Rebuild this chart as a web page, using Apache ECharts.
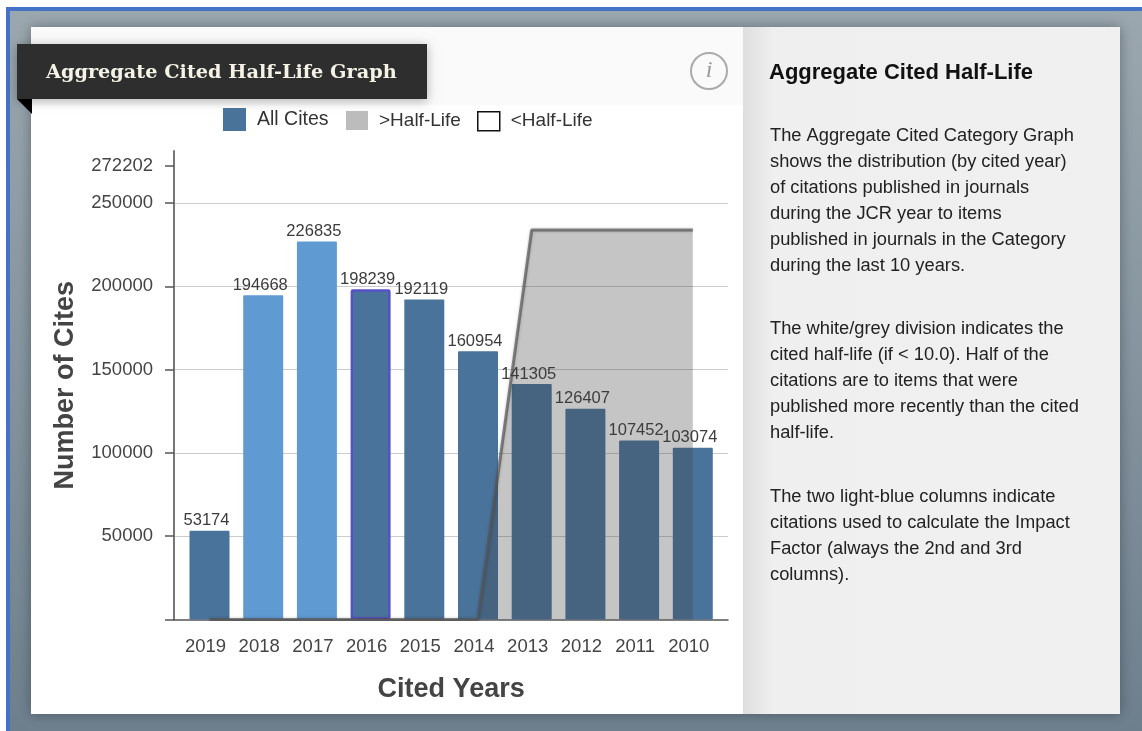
<!DOCTYPE html>
<html>
<head>
<meta charset="utf-8">
<title>Aggregate Cited Half-Life Graph</title>
<style>html,body{margin:0;padding:0;background:#fff}#chart{width:1142px;height:731px}</style>
<script src="https://cdn.jsdelivr.net/npm/echarts@6/dist/echarts.min.js"></script>
</head>
<body>
<div id="chart"></div>
<script>
// Cited-year columns, left to right
const citedYears = ['2019','2018','2017','2016','2015','2014','2013','2012','2011','2010'];
const allCites = [53174,194668,226835,198239,192119,160954,141305,126407,107452,103074];
// Step outline of the share older than the cited half-life
const halfLifeShare = [0,0,0,0,0,0,233800,233800,233800,233800];
const yTicks = [0,50000,100000,150000,200000,250000,272202];
const impactFactorYears = ['2018','2017'];
const selectedYear = '2016';

const panelTitle = 'Aggregate Cited Half-Life';
const panelParagraphs = [
  ['The Aggregate Cited Category Graph','shows the distribution (by cited year)','of citations published in journals','during the JCR year to items','published in journals in the Category','during the last 10 years.'],
  ['The white/grey division indicates the','cited half-life (if < 10.0). Half of the','citations are to items that were','published more recently than the cited','half-life.'],
  ['The two light-blue columns indicate','citations used to calculate the Impact','Factor (always the 2nd and 3rd','columns).']
];
const panelParagraphTops = [136,329,497];

const SANS = '"Liberation Sans", Arial, sans-serif';
const AXIS_TOP = 281200;
const grid = {top:151, bottom:111.6};

// Page furniture behind the chart: backdrop, cards, title ribbon, info mark
const furniture = [
  {type:'rect', z:-30, shape:{x:6,y:7,width:1136,height:724}, style:{fill:'#4472c4'}},
  {type:'rect', z:-29, shape:{x:10,y:11,width:1132,height:720}, style:{fill:{type:'linear',x:0,y:0,x2:0,y2:1,colorStops:[{offset:0,color:'#9ba7ae'},{offset:1,color:'#6d7f8d'}]}}},
  {type:'rect', z:-28, shape:{x:31,y:27,width:1089,height:687}, style:{fill:'#fff',shadowBlur:12,shadowColor:'rgba(30,40,50,.45)'}},
  {type:'rect', z:-27, shape:{x:31,y:27,width:712,height:78}, style:{fill:'#fafafa'}},
  {type:'rect', z:-27, shape:{x:743,y:27,width:377,height:687}, style:{fill:{type:'linear',x:0,y:0,x2:1,y2:0,colorStops:[{offset:0,color:'#dedede'},{offset:.08,color:'#efefef'},{offset:1,color:'#f0f0f0'}]}}},
  {type:'polygon', z:-26, shape:{points:[[17,99],[32,99],[32,114]]}, style:{fill:'#000'}},
  {type:'rect', z:-25, shape:{x:17,y:44,width:410,height:55}, style:{fill:'#2e2e2e',shadowBlur:10,shadowOffsetY:2,shadowColor:'rgba(0,0,0,.3)'}},
  {type:'text', z:-24, x:46, y:73, style:{text:'Aggregate Cited Half-Life Graph',font:'bold 19.3px "DejaVu Serif", serif',fill:'#f5f2e6',verticalAlign:'middle'}},
  {type:'circle', z:-24, shape:{cx:709,cy:71,r:18}, style:{fill:'none',stroke:'#aaa',lineWidth:2}},
  {type:'text', z:-24, x:709, y:71, style:{text:'i',font:'italic 24px "Liberation Serif", serif',fill:'#999',align:'center',verticalAlign:'middle'}},
  {type:'text', z:-24, x:769, y:73, style:{text:panelTitle,font:'bold 22px '+SANS,fill:'#111',verticalAlign:'middle'}}
];
panelParagraphs.forEach((lines,p) => lines.forEach((line,i) => furniture.push({
  type:'text', z:-24, x:770, y:panelParagraphTops[p]+i*26,
  style:{text:line,font:'18.3px '+SANS,fill:'#222',verticalAlign:'middle'}
})));

function barColor(year){
  return impactFactorYears.includes(year) ? '#5f9ad3' : '#4a739b';
}

const chart = echarts.init(document.getElementById('chart'));
chart.setOption({
  animation:false,
  graphic:{elements:furniture},
  legend:[
    {data:[{name:'All Cites',icon:'rect',itemStyle:{color:'#4a739b'}}],left:223,top:108,padding:0,itemWidth:23,itemHeight:23,selectedMode:false,
      textStyle:{fontFamily:SANS,fontSize:19.5,color:'#333',padding:[7,0,0,6]}},
    {data:[{name:'>Half-Life',icon:'rect',itemStyle:{color:'#bcbcbc'},lineStyle:{opacity:0}}],left:346,top:111,padding:0,itemWidth:22,itemHeight:19,selectedMode:false,
      textStyle:{fontFamily:SANS,fontSize:19,color:'#333',padding:[0,0,2,6]}},
    {data:[{name:'<Half-Life',icon:'rect',itemStyle:{color:'#fff',borderColor:'#111',borderWidth:1.5}}],left:477,top:111,padding:0,itemWidth:22,itemHeight:19,selectedMode:false,
      textStyle:{fontFamily:SANS,fontSize:19,color:'#333',padding:[0,0,2,6]}}
  ],
  grid:[
    {left:174,width:554,top:grid.top,bottom:grid.bottom},
    {left:182.65,width:537,top:grid.top,bottom:grid.bottom}
  ],
  xAxis:[
    {type:'value',gridIndex:0,min:0,max:1,axisLine:{show:true,onZero:false,lineStyle:{color:'#555',width:1.5}},axisTick:{show:false},axisLabel:{show:false},splitLine:{show:false}},
    {type:'category',gridIndex:1,data:citedYears,
      name:'Cited Years',nameLocation:'middle',nameGap:57,nameTextStyle:{fontFamily:SANS,fontSize:27,fontWeight:'bold',color:'#444'},
      axisLine:{show:false},axisTick:{alignWithLabel:true,length:10,lineStyle:{color:'#555',width:1.5}},
      axisLabel:{fontFamily:SANS,fontSize:18.5,color:'#444',margin:18,padding:[0,8,0,0],interval:0}}
  ],
  yAxis:[
    {type:'value',gridIndex:0,min:0,max:AXIS_TOP,
      name:'Number of Cites',nameLocation:'middle',nameGap:95,nameTextStyle:{fontFamily:SANS,fontSize:27,fontWeight:'bold',color:'#444'},
      axisLine:{show:true,lineStyle:{color:'#777',width:2}},
      axisTick:{show:true,length:9,customValues:yTicks,lineStyle:{color:'#555',width:1.5}},
      axisLabel:{customValues:yTicks,fontFamily:SANS,fontSize:18.5,color:'#444',margin:21,padding:[4,0,0,0],formatter:v => v === 0 ? '' : String(v)},
      splitLine:{show:false}},
    {type:'value',gridIndex:0,min:0,max:AXIS_TOP,interval:50000,axisLine:{show:false},axisTick:{show:false},axisLabel:{show:false},
      splitLine:{show:true,showMinLine:false,showMaxLine:false,lineStyle:{color:'#ccc',width:1}}},
    {type:'value',gridIndex:1,min:0,max:AXIS_TOP,show:false,splitLine:{show:false}}
  ],
  series:[
    {name:'All Cites',type:'bar',xAxisIndex:1,yAxisIndex:2,z:2,barWidth:40,
      data:allCites.map((v,i) => ({
        value:v,
        itemStyle:citedYears[i] === selectedYear
          ? {color:barColor(citedYears[i]),borderColor:'#5a50c6',borderWidth:2.5,borderRadius:1}
          : {color:barColor(citedYears[i]),borderRadius:1}
      }))},
    {name:'>Half-Life',type:'line',xAxisIndex:1,yAxisIndex:2,z:3,data:halfLifeShare,symbol:'none',
      lineStyle:{color:'rgba(85,85,85,.7)',width:3,shadowBlur:3,shadowColor:'rgba(0,0,0,.3)'},
      areaStyle:{color:'rgba(62,62,62,.3)',opacity:1}},
    {name:'<Half-Life',type:'line',xAxisIndex:1,yAxisIndex:2,data:[]},
    {name:'Column values',type:'line',xAxisIndex:1,yAxisIndex:2,z:4,data:allCites,symbol:'circle',symbolSize:1,showAllSymbol:true,silent:true,
      itemStyle:{color:'rgba(0,0,0,0)'},lineStyle:{opacity:0},
      label:{show:true,position:'top',distance:1,offset:[-3,0],fontFamily:SANS,fontSize:16.5,color:'#3c3c3c'}}
  ]
});
</script>
</body>
</html>
